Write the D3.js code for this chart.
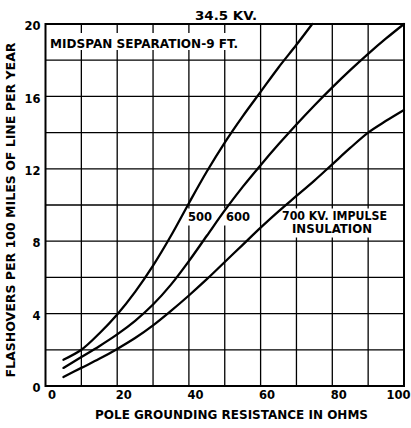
<!DOCTYPE html>
<html>
<head>
<meta charset="utf-8">
<script src="https://cdn.jsdelivr.net/npm/d3@7"></script>
<style>
  html, body { margin: 0; padding: 0; background: #fff; }
  svg { display: block; }
  text { font-family: "DejaVu Sans", sans-serif; font-weight: bold; fill: #000; }
</style>
</head>
<body>
<script>
// ---- data ----
const xTicks = [0, 20, 40, 60, 80, 100];
const yTicks = [0, 4, 8, 12, 16, 20];
const xGrid = [10, 20, 30, 40, 50, 60, 70, 80, 90];
const yGrid = [2, 4, 6, 8, 10, 12, 14, 16, 18];

const x500 = [5, 10, 15, 20, 25, 30, 35, 40, 45, 50, 55, 60, 65, 70, 74.4];
const y500 = [1.45, 2.0, 2.9, 3.95, 5.2, 6.65, 8.3, 10.1, 11.85, 13.45, 14.9, 16.25, 17.6, 18.85, 20];

const x600 = [5, 10, 15, 20, 25, 30, 35, 40, 45, 50, 55, 60, 65, 70, 75, 80, 85, 90, 95, 100];
const y600 = [1.0, 1.6, 2.2, 2.85, 3.6, 4.5, 5.6, 6.9, 8.3, 9.7, 11.0, 12.2, 13.35, 14.45, 15.5, 16.5, 17.45, 18.35, 19.2, 20];

const x700 = [5, 10, 15, 20, 25, 30, 35, 40, 45, 50, 55, 60, 65, 70, 75, 80, 85, 90, 95, 100];
const y700 = [0.5, 1.0, 1.5, 2.05, 2.65, 3.35, 4.15, 5.0, 5.9, 6.85, 7.8, 8.75, 9.65, 10.5, 11.35, 12.25, 13.15, 14.0, 14.65, 15.25];

const series = [
  { name: "500", xs: x500, ys: y500 },
  { name: "600", xs: x600, ys: y600 },
  { name: "700", xs: x700, ys: y700 }
];

const title = "34.5 KV.";
const note = "MIDSPAN SEPARATION-9 FT.";
const xTitle = "POLE GROUNDING RESISTANCE IN OHMS";
const yTitle = "FLASHOVERS PER 100 MILES OF LINE PER YEAR";

// ---- layout ----
const W = 411, H = 428;
const L = 45.5, R = 404, T = 24, B = 386;

const svg = d3.select("body").append("svg").attr("width", W).attr("height", H);
svg.append("rect").attr("width", W).attr("height", H).attr("fill", "#fff");

const x = d3.scaleLinear().domain([0, 100]).range([L, R]);
const y = d3.scaleLinear().domain([0, 20]).range([B, T]);

// grid
const grid = svg.append("g").attr("stroke", "#000").attr("stroke-width", 1.3);
grid.selectAll("line.v").data(xGrid).join("line").attr("class", "v")
  .attr("x1", d => x(d)).attr("x2", d => x(d)).attr("y1", T).attr("y2", B);
grid.selectAll("line.h").data(yGrid).join("line").attr("class", "h")
  .attr("x1", L).attr("x2", R).attr("y1", d => y(d)).attr("y2", d => y(d));

// white label backgrounds that interrupt the grid
const boxes = svg.append("g").attr("fill", "#fff");
boxes.append("rect").attr("x", L + 1.5).attr("y", 33).attr("width", 198).attr("height", 17);
boxes.append("rect").attr("x", 185).attr("y", 208.5).attr("width", 70).attr("height", 17);
boxes.append("rect").attr("x", 278).attr("y", 208.5).attr("width", 114).attr("height", 29);

// frame
svg.append("rect").attr("x", L).attr("y", T).attr("width", R - L).attr("height", B - T)
  .attr("fill", "none").attr("stroke", "#000").attr("stroke-width", 2);

// curves
const line = d3.line().x(d => x(d[0])).y(d => y(d[1])).curve(d3.curveCatmullRom.alpha(0.5));
svg.append("g").selectAll("path").data(series).join("path")
  .attr("d", s => line(s.xs.map((v, i) => [v, s.ys[i]])))
  .attr("fill", "none").attr("stroke", "#000").attr("stroke-width", 2.3)
  .attr("stroke-linecap", "round");

// axes (labels only)
const ax = svg.append("g").attr("transform", `translate(0,${B})`)
  .call(d3.axisBottom(x).tickValues(xTicks).tickSize(0).tickPadding(5).tickFormat(d3.format("d")));
ax.select(".domain").remove();
ax.selectAll("text").attr("font-size", 11.5).attr("font-family", "DejaVu Sans").attr("font-weight", "bold")
  .attr("dx", d => d === 100 ? -6 : 6);

const ay = svg.append("g").attr("transform", `translate(${L},0)`)
  .call(d3.axisLeft(y).tickValues(yTicks).tickSize(0).tickPadding(5).tickFormat(d3.format("d")));
ay.select(".domain").remove();
ay.selectAll("text").attr("font-size", 11.5).attr("font-family", "DejaVu Sans").attr("font-weight", "bold")
  .attr("dy", "0.5em");

// texts
svg.append("text").attr("x", 195).attr("y", 20).attr("font-size", 11.5)
  .attr("textLength", 62).attr("lengthAdjust", "spacingAndGlyphs").text(title);
svg.append("text").attr("x", 50).attr("y", 48).attr("font-size", 11.5)
  .attr("textLength", 188).attr("lengthAdjust", "spacingAndGlyphs").text(note);

svg.append("text").attr("x", 188).attr("y", 221).attr("font-size", 12)
  .attr("textLength", 24).attr("lengthAdjust", "spacingAndGlyphs").text(series[0].name);
svg.append("text").attr("x", 226).attr("y", 221).attr("font-size", 12)
  .attr("textLength", 24).attr("lengthAdjust", "spacingAndGlyphs").text(series[1].name);
svg.append("text").attr("x", 282).attr("y", 220).attr("font-size", 12)
  .attr("textLength", 105).attr("lengthAdjust", "spacingAndGlyphs").text(series[2].name + " KV. IMPULSE");
svg.append("text").attr("x", 292).attr("y", 233).attr("font-size", 12)
  .attr("textLength", 80).attr("lengthAdjust", "spacingAndGlyphs").text("INSULATION");

svg.append("text").attr("x", 231.5).attr("y", 419).attr("font-size", 11.5).attr("text-anchor", "middle")
  .attr("textLength", 273).attr("lengthAdjust", "spacingAndGlyphs").text(xTitle);

svg.append("text").attr("transform", "translate(15,210) rotate(-90)").attr("font-size", 12)
  .attr("text-anchor", "middle")
  .attr("textLength", 335).attr("lengthAdjust", "spacingAndGlyphs").text(yTitle);
</script>
</body>
</html>
